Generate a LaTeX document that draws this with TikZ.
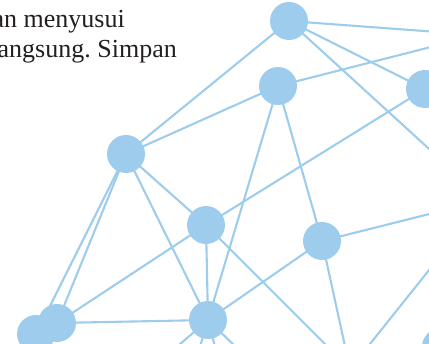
\documentclass[tikz,border=0pt]{standalone}
\usepackage{fontspec}
\setmainfont{Liberation Serif}
\frenchspacing
\definecolor{netblue}{RGB}{157,204,236}
\definecolor{inkgray}{RGB}{35,31,32}
\tikzset{
  hub/.style={circle, fill=netblue, minimum size=38pt, inner sep=0pt},
  link/.style={draw=netblue, line width=2.1pt},
  para/.style={anchor=base east, inner sep=0pt, text=inkgray,
               font=\fontsize{26}{30}\selectfont}
}
\begin{document}
\begin{tikzpicture}[x=1pt,y=-1pt]
  \useasboundingbox (0,0) rectangle (429,344);
  \clip (0,0) rectangle (429,344);

  % visible hubs
  \coordinate (A) at (289,21);
  \coordinate (B) at (278,86);
  \coordinate (C) at (425,89);
  \coordinate (D) at (126,154);
  \coordinate (E) at (206,225);
  \coordinate (F) at (322,241);
  \coordinate (G) at (208,320);
  \coordinate (H1) at (36,334);
  \coordinate (H2) at (57,323);
  \coordinate (I) at (441,347);
  % hubs lying beyond the frame
  \coordinate (J) at (350,369);
  \coordinate (N) at (478,35);
  \coordinate (O) at (485,200);
  \coordinate (Q1) at (150,370);
  \coordinate (Q2) at (190,380);
  \coordinate (Q3) at (225,385);
  \coordinate (Q4) at (270,380);

  % connections
  \foreach \u/\v in {A/D, A/C, A/N, A/O,
                     B/D, B/N, B/G, B/F,
                     C/E,
                     D/E, D/G, D/H1, D/H2,
                     E/H2, E/G, E/J,
                     F/O, F/G, F/J,
                     J/O,
                     G/H2, G/Q1, G/Q2, G/Q3, G/Q4}
    \draw[link] (\u) -- (\v);

  % hub discs
  \foreach \p in {A,B,C,D,E,F,G,H1,H2,I}
    \node[hub] (n\p) at (\p) {};

  % paragraph fragment
  \node[para] (line1) at (125,28) {an menyusui};
  \node[para] (line2) at (177,58) {angsung. Simpan};
\end{tikzpicture}
\end{document}
